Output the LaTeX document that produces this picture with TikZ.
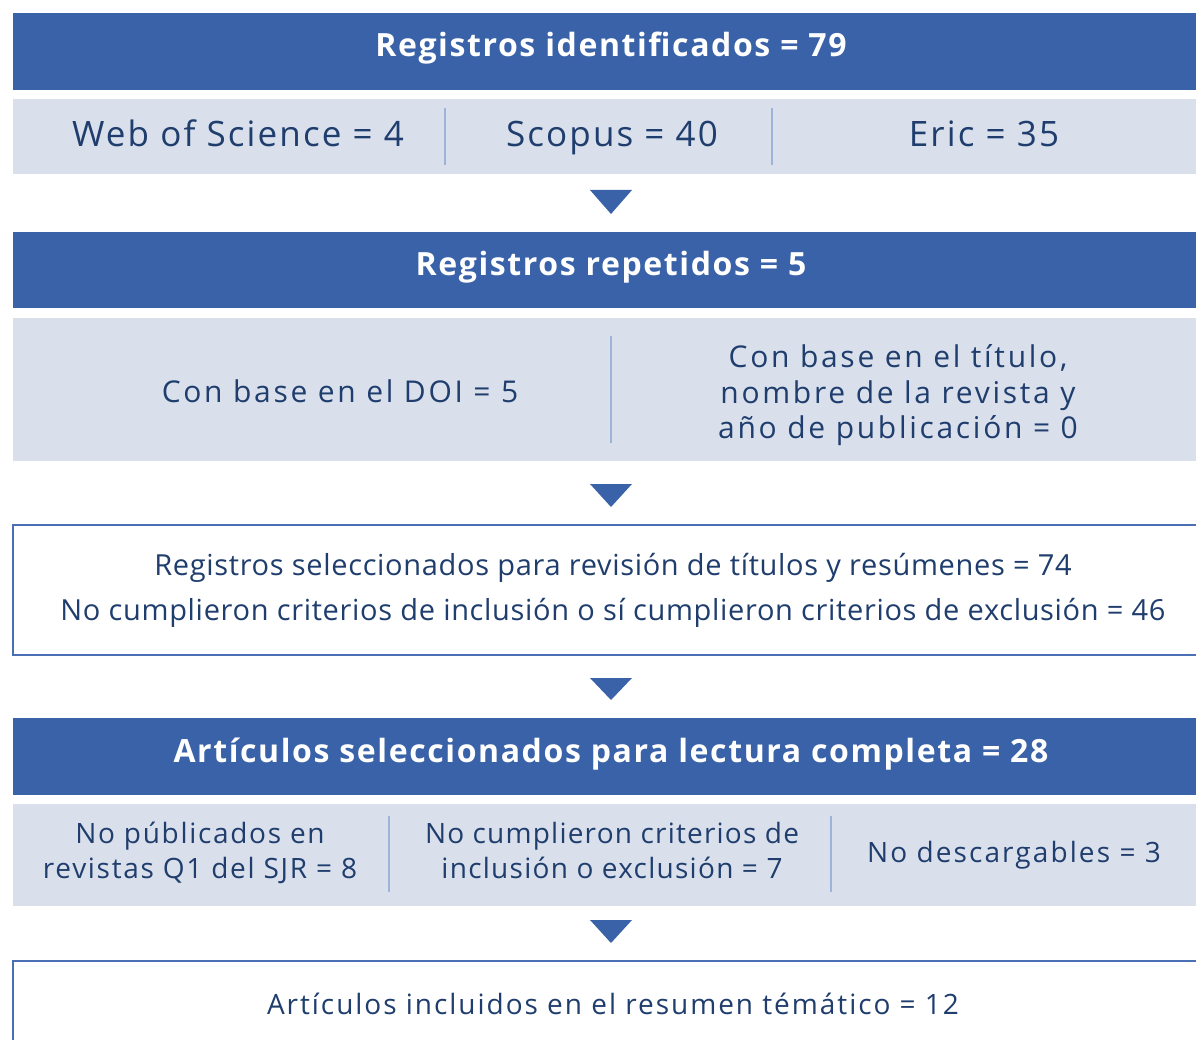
\documentclass[tikz,border=0pt]{standalone}
\usepackage{fontspec}
\setmainfont{Open Sans}
\definecolor{hdr}{HTML}{3A62A8}
\definecolor{lite}{HTML}{D9E0EC}
\definecolor{ink}{HTML}{1F3D6D}
\definecolor{divc}{HTML}{9DB3DC}
\definecolor{brd}{HTML}{4A6FB5}
\tikzset{
  hdrbox/.style={fill=hdr, draw=none},
  litebox/.style={fill=lite, draw=none},
  whitebox/.style={fill=white, draw=brd, line width=2pt},
  hdrtxt/.style={text=white, anchor=base, inner sep=0pt,
    font=\fontsize{32}{38}\selectfont\bfseries\addfontfeature{LetterSpace=5}},
  subtxt/.style={text=ink, anchor=base, inner sep=0pt},
  divline/.style={draw=divc, line width=1.6pt},
  tri/.style={fill=hdr, draw=none},
}
\newcommand{\fsz}[2]{\fontsize{#1}{#1}\selectfont\addfontfeature{LetterSpace=#2}}
\begin{document}
\begin{tikzpicture}[x=1pt,y=-1pt]
\useasboundingbox (0,0) rectangle (1196,1040);
% row 1
\path[hdrbox] (13,13) rectangle (1209,90);
\node[hdrtxt] (h1) at (611,57) {Registros identificados = 79};
\path[litebox] (13,99) rectangle (1209,174);
\node[subtxt, font=\fsz{35}{6}] (s1a) at (238,147) {Web of Science = 4};
\node[subtxt, font=\fsz{35}{6}] (s1b) at (612,147) {Scopus = 40};
\node[subtxt, font=\fsz{35}{6}] (s1c) at (984,147) {Eric = 35};
\coordinate (d1t) at (445,108); \coordinate (d1b) at (445,165);
\coordinate (d2t) at (772,108); \coordinate (d2b) at (772,165);
\draw[divline] (d1t) -- (d1b);
\draw[divline] (d2t) -- (d2b);
% triangle 1
\coordinate (t1l) at (590,190); \coordinate (t1r) at (632,190); \coordinate (t1b) at (611,214);
\path[tri] (t1l) -- (t1r) -- (t1b) -- cycle;
% row 2
\path[hdrbox] (13,232) rectangle (1209,308);
\node[hdrtxt] (h2) at (611,276) {Registros repetidos = 5};
\path[litebox] (13,318) rectangle (1209,461);
\node[subtxt, font=\fsz{30}{9}] (s2a) at (340,402) {Con base en el DOI = 5};
\node[subtxt, font=\fsz{30}{9}] (s2b1) at (898,367) {Con base en el título,};
\node[subtxt, font=\fsz{30}{9}] (s2b2) at (898,403) {nombre de la revista y};
\node[subtxt, font=\fsz{30}{9}] (s2b3) at (898,438) {año de publicación = 0};
\coordinate (d3t) at (611,336); \coordinate (d3b) at (611,443);
\draw[divline] (d3t) -- (d3b);
% triangle 2
\coordinate (t2l) at (590,484); \coordinate (t2r) at (632,484); \coordinate (t2b) at (611,507);
\path[tri] (t2l) -- (t2r) -- (t2b) -- cycle;
% box 1
\path[whitebox] (13,525) rectangle (1220,655);
\node[subtxt, font=\fsz{29}{2.3}] (b1a) at (613,575) {Registros seleccionados para revisión de títulos y resúmenes = 74};
\node[subtxt, font=\fsz{29}{2.3}] (b1b) at (613,620) {No cumplieron criterios de inclusión o sí cumplieron criterios de exclusión = 46};
% triangle 3
\coordinate (t3l) at (590,678); \coordinate (t3r) at (632,678); \coordinate (t3b) at (611,700);
\path[tri] (t3l) -- (t3r) -- (t3b) -- cycle;
% row 3
\path[hdrbox] (13,718) rectangle (1209,795);
\node[hdrtxt] (h3) at (611,762) {Artículos seleccionados para lectura completa = 28};
\path[litebox] (13,804) rectangle (1209,906);
\node[subtxt, font=\fsz{28}{6}] (s3a1) at (200,843) {No públicados en};
\node[subtxt, font=\fsz{28}{6}] (s3a2) at (200,878) {revistas Q1 del SJR = 8};
\node[subtxt, font=\fsz{28}{4.3}] (s3b1) at (612,843) {No cumplieron criterios de};
\node[subtxt, font=\fsz{28}{4.5}] (s3b2) at (612,878) {inclusión o exclusión = 7};
\node[subtxt, font=\fsz{28}{7.5}] (s3c) at (1014,862) {No descargables = 3};
\coordinate (d4t) at (389,816); \coordinate (d4b) at (389,892);
\coordinate (d5t) at (831,816); \coordinate (d5b) at (831,892);
\draw[divline] (d4t) -- (d4b);
\draw[divline] (d5t) -- (d5b);
% triangle 4
\coordinate (t4l) at (590,920); \coordinate (t4r) at (632,920); \coordinate (t4b) at (611,943);
\path[tri] (t4l) -- (t4r) -- (t4b) -- cycle;
% box 2
\path[whitebox] (13,961) rectangle (1220,1100);
\node[subtxt, font=\fsz{28}{7}] (b2) at (613,1014) {Artículos incluidos en el resumen témático = 12};
\end{tikzpicture}
\end{document}
